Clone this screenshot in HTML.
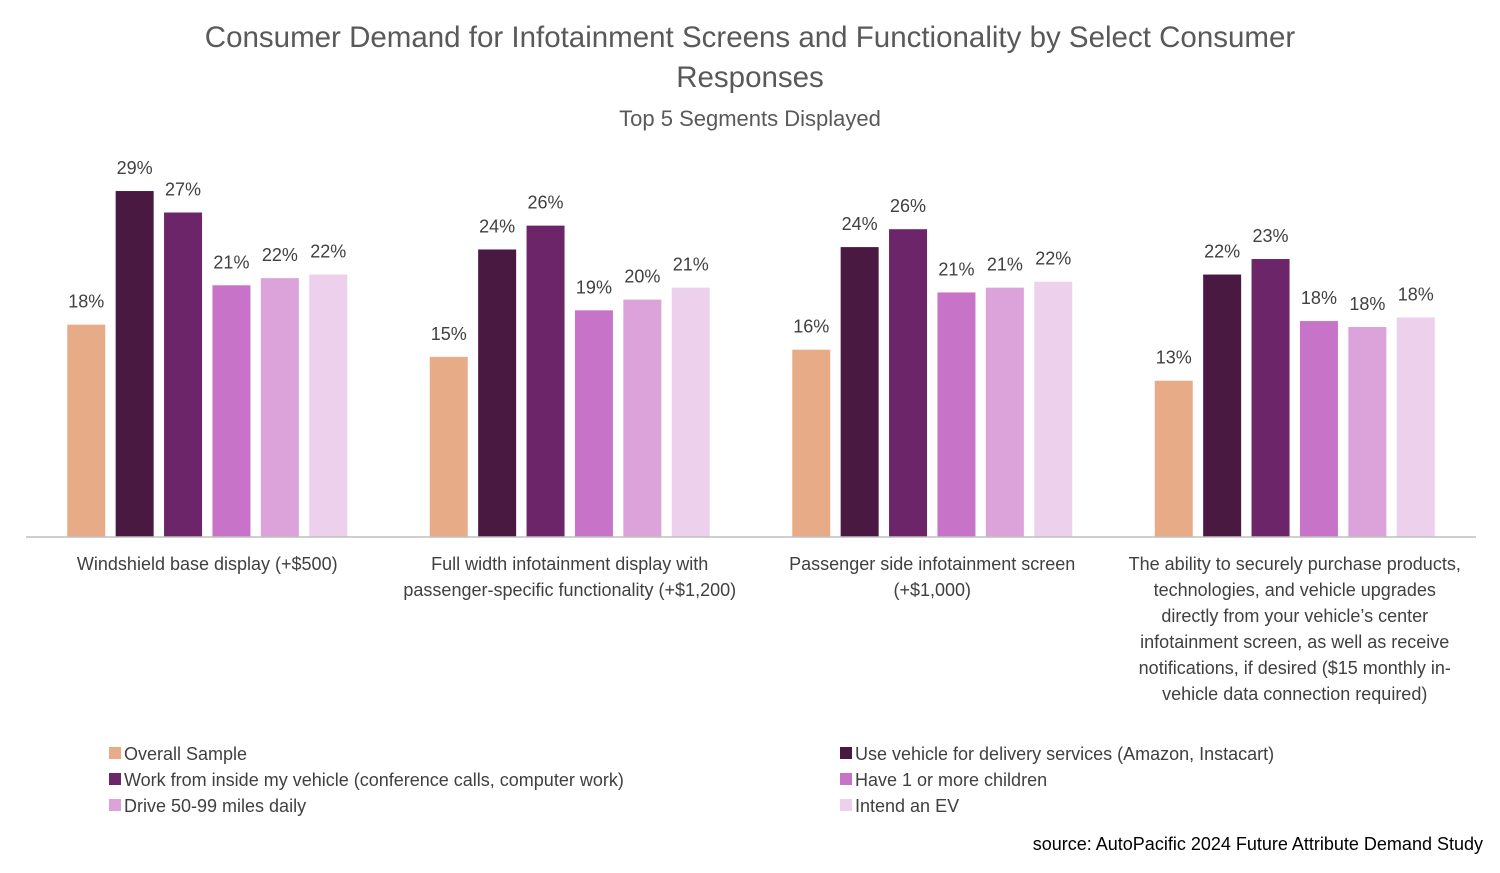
<!DOCTYPE html>
<html><head><meta charset="utf-8"><style>
body{margin:0;background:#fff;width:1500px;height:868px;overflow:hidden;font-family:"Liberation Sans",sans-serif;}
svg text{font-family:"Liberation Sans",sans-serif;}
</style></head><body>
<svg id="chart" width="1500" height="868" xmlns="http://www.w3.org/2000/svg">
<text x="750" y="47" text-anchor="middle" font-size="29.5" fill="#595959">Consumer Demand for Infotainment Screens and Functionality by Select Consumer</text>
<text x="750" y="87" text-anchor="middle" font-size="29.5" fill="#595959">Responses</text>
<text x="750" y="126" text-anchor="middle" font-size="22" fill="#595959">Top 5 Segments Displayed</text>
<text x="1483" y="850" text-anchor="end" font-size="18" fill="#000">source: AutoPacific 2024 Future Attribute Demand Study</text>
</svg>
<script>
const categories=[
 ["Windshield base display (+$500)"],
 ["Full width infotainment display with","passenger-specific functionality (+$1,200)"],
 ["Passenger side infotainment screen","(+$1,000)"],
 ["The ability to securely purchase products,","technologies, and vehicle upgrades","directly from your vehicle’s center","infotainment screen, as well as receive","notifications, if desired ($15 monthly in-","vehicle data connection required)"]
];
const seriesNames=["Overall Sample","Use vehicle for delivery services (Amazon, Instacart)","Work from inside my vehicle (conference calls, computer work)","Have 1 or more children","Drive 50-99 miles daily","Intend an EV"];
const overall=[17.8,15.1,15.7,13.1];
const delivery=[29.0,24.1,24.3,22.0];
const workFrom=[27.2,26.1,25.8,23.3];
const children=[21.1,19.0,20.5,18.1];
const drive=[21.7,19.9,20.9,17.6];
const ev=[22.0,20.9,21.4,18.4];
const labels=[["18%","15%","16%","13%"],["29%","24%","24%","22%"],["27%","26%","26%","23%"],["21%","19%","21%","18%"],["22%","20%","21%","18%"],["22%","21%","22%","18%"]];
const colors=["#E8AB88","#4A1942","#6B2568","#C774C8","#DBA3DA","#EDD0EC"];
const series=[overall,delivery,workFrom,children,drive,ev];
const svg=document.getElementById('chart');const NS="http://www.w3.org/2000/svg";
const L=26,R=1476,base=537,pxPer=11.93,gw=(R-L)/categories.length,bw=38,pitch=48.4;
const y=v=>base-v*pxPer;
const gx=(g,s)=>L+gw*g+gw/2+(s-2.5)*pitch-bw/2;
function mk(t,a){const e=document.createElementNS(NS,t);for(const k in a)e.setAttribute(k,a[k]);svg.appendChild(e);return e;}
series.forEach((arr,s)=>arr.forEach((v,g)=>{
 const r=mk('rect',{x:gx(g,s),y:y(v),width:bw,height:base-y(v),fill:colors[s]});
 
 
 const t=mk('text',{x:gx(g,s)+bw/2,y:y(v)-17,'text-anchor':'middle','font-size':18,fill:'#404040'});
 t.textContent=labels[s][g];
 
 
}));
const ax=mk('line',{x1:L,x2:R,y1:base,y2:base,stroke:'#BFBFBF','stroke-width':1.5});


categories.forEach((lines,g)=>{lines.forEach((ln,i)=>{
 const t=mk('text',{x:L+gw*g+gw/2,y:570+i*26,'text-anchor':'middle','font-size':18,fill:'#404040'});
 t.textContent=ln;
 
 
});});
seriesNames.forEach((n,i)=>{
 const lx=i%2?840:109,ly=753+Math.floor(i/2)*26;
 const r=mk('rect',{x:lx,y:ly-6,width:12,height:12,fill:colors[i]});
 
 
 const t=mk('text',{x:lx+15,y:ly+7,'font-size':18,fill:'#404040'});
 t.textContent=n;
 
 
});
</script>
</body></html>
